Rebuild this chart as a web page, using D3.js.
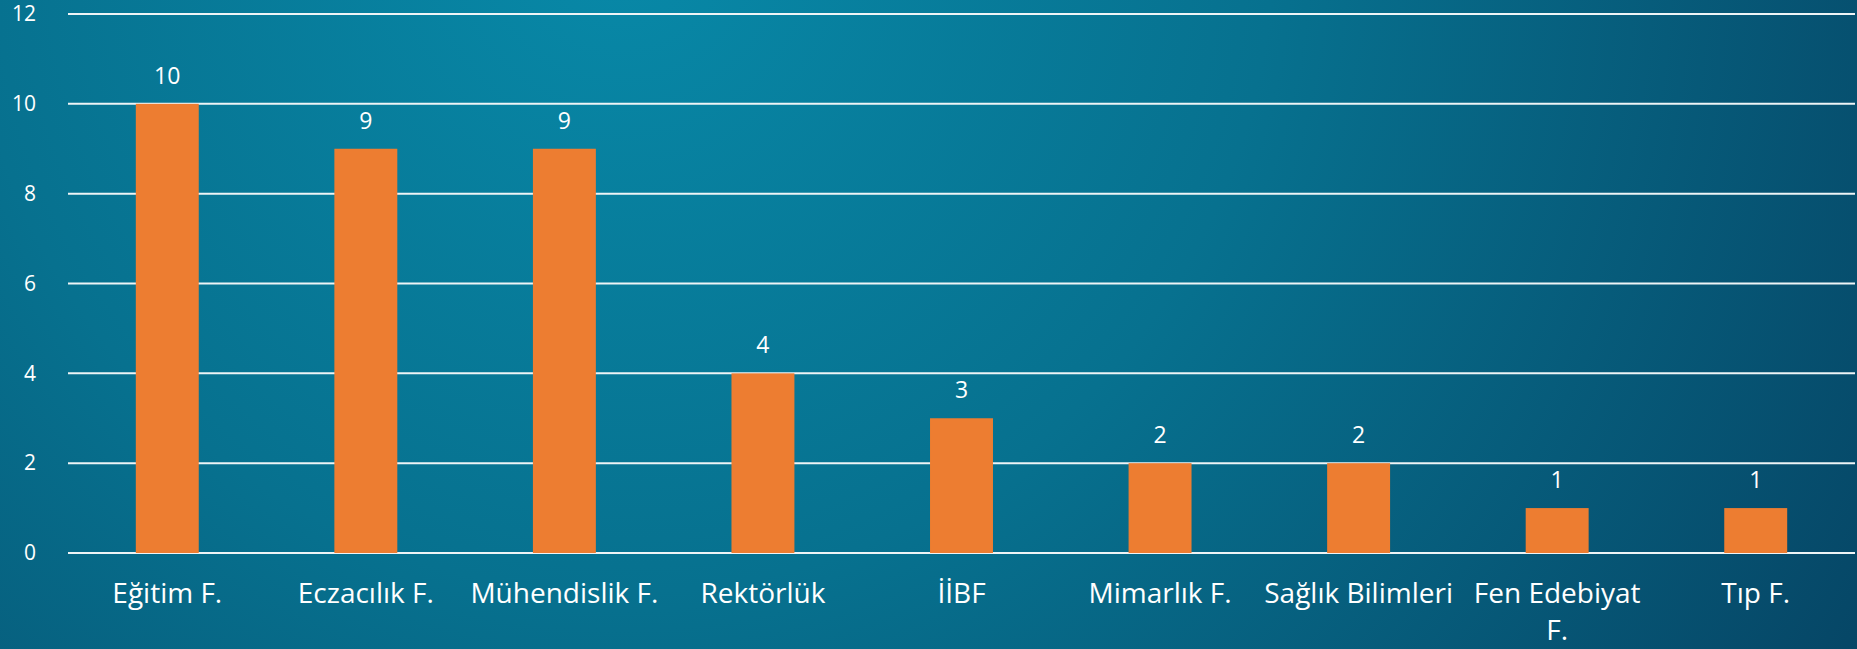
<!DOCTYPE html>
<html>
<head>
<meta charset="utf-8">
<script src="https://cdn.jsdelivr.net/npm/d3@7"></script>
<style>
  html, body { margin: 0; padding: 0; overflow: hidden; }
  svg { display: block; font-family: "Open Sans", "DejaVu Sans", sans-serif; }
  text { fill: #fff; }
</style>
</head>
<body>
<svg id="chart"></svg>
<script>
// chart data
const categories = ["Eğitim F.", "Eczacılık F.", "Mühendislik F.", "Rektörlük", "İİBF",
                    "Mimarlık F.", "Sağlık Bilimleri", "Fen Edebiyat F.", "Tıp F."];
const counts = [10, 9, 9, 4, 3, 2, 2, 1, 1];
const yTicks = [0, 2, 4, 6, 8, 10, 12];

const width = 1857, height = 649;
const margin = { top: 14, right: 2, bottom: 96, left: 68 };

const svg = d3.select("#chart")
    .attr("width", width)
    .attr("height", height);

// background gradient
const defs = svg.append("defs");
const grad = defs.append("radialGradient")
    .attr("id", "bg")
    .attr("gradientUnits", "userSpaceOnUse")
    .attr("cx", 620).attr("cy", -60).attr("r", 1450);
grad.append("stop").attr("offset", "0%").attr("stop-color", "#0889a8");
grad.append("stop").attr("offset", "45%").attr("stop-color", "#07718f");
grad.append("stop").attr("offset", "100%").attr("stop-color", "#064565");

svg.append("rect")
    .attr("width", width)
    .attr("height", height)
    .attr("fill", "url(#bg)");

// scales
const x = d3.scaleBand()
    .domain(categories)
    .range([margin.left, width - margin.right])
    .paddingInner(0.683)
    .paddingOuter(0.683 / 2);

const y = d3.scaleLinear()
    .domain([0, 12])
    .range([height - margin.bottom, margin.top]);

// gridlines
svg.append("g")
    .attr("class", "grid")
    .selectAll("line")
    .data(yTicks)
    .join("line")
    .attr("x1", margin.left)
    .attr("x2", width - margin.right)
    .attr("y1", d => y(d))
    .attr("y2", d => y(d))
    .attr("stroke", "#eef4f6")
    .attr("stroke-width", 2);

// y axis labels
const yAxis = svg.append("g")
    .attr("transform", `translate(${margin.left - 32},0)`)
    .call(d3.axisLeft(y).tickValues(yTicks).tickSize(0).tickPadding(0));
yAxis.select(".domain").remove();
yAxis.selectAll("text")
    .attr("fill", "#fff")
    .style("font-size", "21px")
    .style("font-family", "'Open Sans', sans-serif");

// bars
svg.append("g")
    .selectAll("rect")
    .data(counts)
    .join("rect")
    .attr("x", (d, i) => x(categories[i]))
    .attr("width", x.bandwidth())
    .attr("y", d => y(d))
    .attr("height", d => y(0) - y(d))
    .attr("fill", "#ed7d31");

// data labels
svg.append("g")
    .selectAll("text")
    .data(counts)
    .join("text")
    .attr("x", (d, i) => x(categories[i]) + x.bandwidth() / 2)
    .attr("y", d => y(d) - 20)
    .attr("text-anchor", "middle")
    .style("font-size", "23px")
    .text(d => d);

// category labels (wrap long ones like Excel does)
const xAxis = svg.append("g")
    .attr("transform", `translate(0,${y(0)})`)
    .call(d3.axisBottom(x).tickSize(0).tickPadding(0));
xAxis.select(".domain").remove();
xAxis.selectAll("text").remove();

const catLabels = svg.append("g")
    .selectAll("text")
    .data(categories)
    .join("text")
    .attr("x", d => x(d) + x.bandwidth() / 2)
    .attr("y", y(0) + 50)
    .attr("text-anchor", "middle")
    .style("font-size", "28px");

catLabels.each(function (d) {
    const t = d3.select(this);
    const lines = d === "Fen Edebiyat F." ? ["Fen Edebiyat", "F."] : [d];
    lines.forEach((ln, k) => {
        t.append("tspan")
            .attr("x", x(d) + x.bandwidth() / 2)
            .attr("dy", k === 0 ? 0 : 37)
            .text(ln);
    });
});
</script>
</body>
</html>
